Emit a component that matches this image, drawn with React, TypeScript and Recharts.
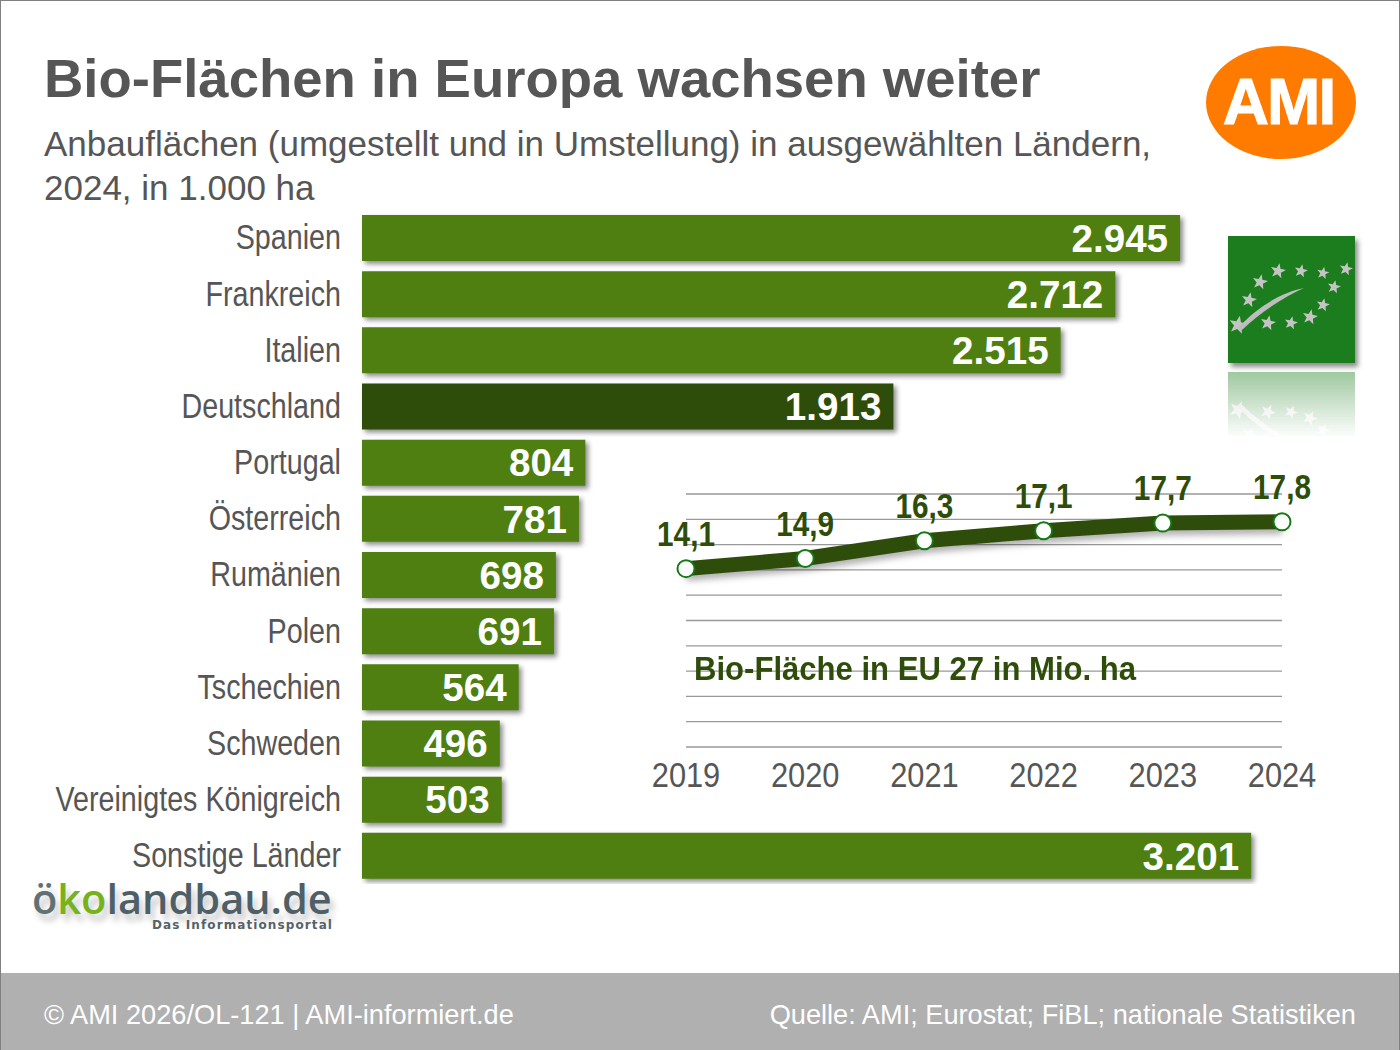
import { Bar, BarChart, CartesianGrid, Cell, LabelList, Line, LineChart, XAxis, YAxis } from 'recharts';

const countries = ['Spanien', 'Frankreich', 'Italien', 'Deutschland', 'Portugal', 'Österreich', 'Rumänien', 'Polen', 'Tschechien', 'Schweden', 'Vereinigtes Königreich', 'Sonstige Länder'];
const areas = [2945, 2712, 2515, 1913, 804, 781, 698, 691, 564, 496, 503, 3201];
const years = ['2019', '2020', '2021', '2022', '2023', '2024'];
const euArea = [14.1, 14.9, 16.3, 17.1, 17.7, 17.8];
const euTicks = [0, 2, 4, 6, 8, 10, 12, 14, 16, 18, 20];

// Sterne im EU-Bio-Logo (Logo-Grafik, keine Daten)
const logoStars = [[50, 35, 8], [73, 35, 7], [95, 37, 6.5], [118, 33, 7], [106, 51, 7], [95, 69, 7], [82, 81, 8], [63, 87, 7], [40, 87, 8], [10, 89, 9.5], [21, 64, 8], [32, 46, 8]];

const barRows = countries.map((name, i) => ({ name, value: areas[i] }));
const lineRows = years.map((year, i) => ({ year, value: euArea[i] }));

const fmtThousand = (v: number) => String(v).replace(/\B(?=(\d{3})+$)/g, '.');
const fmtDecimal = (v: number) => v.toFixed(1).replace('.', ',');

const SANS = '"Liberation Sans", Arial, sans-serif';
const GREY = '#565656';
const DARK = '#2f4d0a';

// das Original ist horizontal gestaucht, eine Narrow-Schrift gibt es hier nicht
function CountryTick({ x, y, payload }: any) {
  return (
    <text transform={`translate(${x},${y - 1}) scale(0.82,1)`} textAnchor="end" dy="0.35em" fontFamily={SANS} fontSize={35} fill={GREY}>
      {payload.value}
    </text>
  );
}

function YearTick({ x, y, payload }: any) {
  return (
    <text transform={`translate(${x},${y}) scale(0.88,1)`} textAnchor="middle" dy="0.71em" fontFamily={SANS} fontSize={35} fill={GREY}>
      {payload.value}
    </text>
  );
}

function EuLabel({ x, y, value }: any) {
  return (
    <text transform={`translate(${x},${y - 23}) scale(0.85,1)`} textAnchor="middle" fontFamily={SANS} fontSize={35} fontWeight={700} fill={DARK}>
      {fmtDecimal(value)}
    </text>
  );
}

function starPoints(cx: number, cy: number, r: number) {
  const pts: string[] = [];
  for (let i = 0; i < 10; i++) {
    const rad = i % 2 === 0 ? r : r * 0.42;
    const a = -Math.PI / 2 + (i * Math.PI) / 5 + 0.2;
    pts.push(`${cx + rad * Math.cos(a)},${cy + rad * Math.sin(a)}`);
  }
  return pts.join(' ');
}

function LeafLogo() {
  return (
    <svg width={127} height={127} viewBox="0 0 127 127" style={{ display: 'block' }}>
      <rect width={127} height={127} fill="#1b7d1e" />
      {logoStars.map(([x, y, r], i) => (
        <polygon key={i} points={starPoints(x, y, r)} fill="#c4c4c4" />
      ))}
      <path d="M10 92 C30 70 55 56 76 52 C58 60 35 74 14 94 Z" fill="#bdbdbd" />
    </svg>
  );
}

const abs = (left: number, top: number): React.CSSProperties => ({ position: 'absolute', left, top, whiteSpace: 'nowrap' });

export default function App() {
  return (
    <div style={{ position: 'relative', width: 1400, height: 1050, boxSizing: 'border-box', border: '1px solid #808080', borderBottom: 'none', background: '#fff', overflow: 'hidden', fontFamily: SANS }}>
      <style>{`
        body { margin: 0; }
        .bars .recharts-rectangle { filter: drop-shadow(3px 3px 2.5px rgba(0,0,0,.45)); }
        .eu-line .recharts-line-curve { filter: drop-shadow(0 5px 3px rgba(0,0,0,.3)); }
      `}</style>

      <div style={{ ...abs(43, 45), fontSize: 54.5, lineHeight: '66px', fontWeight: 700, color: GREY }}>Bio-Flächen in Europa wachsen weiter</div>
      <div style={{ ...abs(43, 121), fontSize: 35, lineHeight: '44px', color: GREY }}>
        Anbauflächen (umgestellt und in Umstellung) in ausgewählten Ländern,<br />2024, in 1.000 ha
      </div>

      <div style={{ ...abs(-1, 209) }} className="bars">
        <BarChart width={1362} height={674} data={barRows} layout="vertical" margin={{ top: 0, right: 0, bottom: 0, left: 0 }} barCategoryGap={10}>
          <XAxis type="number" hide domain={[0, 3600]} />
          <YAxis type="category" dataKey="name" width={362} interval={0} axisLine={false} tickLine={false} tickMargin={15} tick={<CountryTick />} />
          <Bar dataKey="value" barSize={46} isAnimationActive={false}>
            {barRows.map((row) => (
              <Cell key={row.name} fill={row.name === 'Deutschland' ? DARK : '#4f7f10'} />
            ))}
            <LabelList dataKey="value" position="insideRight" offset={12} formatter={fmtThousand} style={{ fontFamily: SANS, fontSize: 38.6, fontWeight: 700, fill: '#fff' }} />
          </Bar>
        </BarChart>
      </div>

      <div style={{ ...abs(639, 469) }} className="eu-line">
        <LineChart width={700} height={330} data={lineRows} margin={{ top: 24, right: 58, bottom: 0, left: 46 }}>
          <CartesianGrid vertical={false} stroke="#999" strokeWidth={1.3} horizontalValues={euTicks} />
          <XAxis dataKey="year" scale="point" axisLine={false} tickLine={false} height={53} interval={0} tickMargin={9} tick={<YearTick />} />
          <YAxis hide domain={[0, 20]} ticks={euTicks} tickCount={11} />
          <Line
            type="linear"
            dataKey="value"
            stroke={DARK}
            strokeWidth={15}
            strokeLinecap="butt"
            dot={{ r: 8.5, fill: '#fff', stroke: '#137a13', strokeWidth: 2 }}
            isAnimationActive={false}
          >
            <LabelList dataKey="value" content={<EuLabel />} />
          </Line>
        </LineChart>
      </div>
      <div style={{ ...abs(693, 647), fontSize: 34, lineHeight: '40px', fontWeight: 700, color: DARK, transform: 'scaleX(0.914)', transformOrigin: 'left' }}>Bio-Fläche in EU 27 in Mio. ha</div>

      {/* AMI-Logo */}
      <div style={{ position: 'absolute', left: 1205, top: 45, width: 150, height: 113, borderRadius: '50%', background: '#ff7b00' }}>
        <div style={{ color: '#fff', fontSize: 64, fontWeight: 700, lineHeight: '113px', textAlign: 'center', letterSpacing: -2, WebkitTextStroke: '1px #fff', marginLeft: -5 }}>AMI</div>
      </div>

      {/* EU-Bio-Logo mit Spiegelung */}
      <div style={{ position: 'absolute', left: 1227, top: 235, boxShadow: '3px 4px 5px rgba(0,0,0,.45)' }}><LeafLogo /></div>
      <div style={{ position: 'absolute', left: 1227, top: 371, height: 66, width: 127, overflow: 'hidden', opacity: 0.42, WebkitMaskImage: 'linear-gradient(#000, transparent)', maskImage: 'linear-gradient(#000, transparent)' }}>
        <div style={{ transform: 'scaleY(-1)' }}><LeafLogo /></div>
      </div>

      {/* oekolandbau.de */}
      <div style={{ ...abs(31, 875), fontFamily: '"Open Sans", sans-serif', fontSize: 41.5, lineHeight: '44px', fontWeight: 600, color: '#4f5f67', textShadow: '4px 7px 6px rgba(0,0,0,.22)' }}>
        <span style={{ color: '#5f7173' }}>ö</span><span style={{ color: '#76b21c' }}>ko</span>landbau.de
      </div>
      <div style={{ ...abs(151, 918), fontFamily: '"DejaVu Sans", sans-serif', fontSize: 12, lineHeight: '13px', fontWeight: 700, letterSpacing: 1.1, color: '#55626a' }}>Das Informationsportal</div>

      <div style={{ position: 'absolute', left: -1, right: -1, top: 972, height: 78, background: '#b0b0b0', color: '#fff', fontSize: 27.2 }}>
        <span style={{ position: 'absolute', left: 44, top: 26 }}>© AMI 2026/OL-121 | AMI-informiert.de</span>
        <span style={{ position: 'absolute', right: 44, top: 26 }}>Quelle: AMI; Eurostat; FiBL; nationale Statistiken</span>
      </div>
    </div>
  );
}
